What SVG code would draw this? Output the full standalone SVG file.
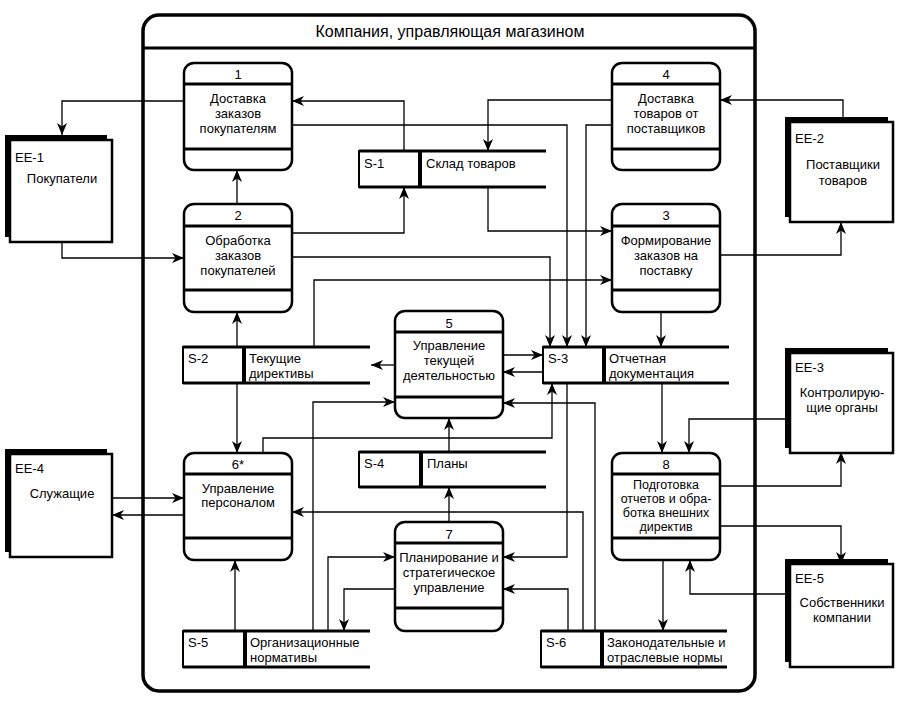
<svg xmlns="http://www.w3.org/2000/svg" width="900" height="704" viewBox="0 0 900 704">
<style>
text{font-family:"Liberation Sans",Arial,sans-serif;font-size:13px;fill:#000}
.c{text-anchor:middle}
.ttl{font-size:16px}
.sm{font-size:12.5px}
.pb{fill:#fff;stroke:#000;stroke-width:2.5}
.hl{stroke:#000;stroke-width:3}
.sh{fill:#000}
.eb{fill:#fff;stroke:#000;stroke-width:2.5}
.sid{fill:#fff;stroke:#000;stroke-width:2}
.sl{stroke:#000;stroke-width:3;fill:none}
.sep{stroke:#000;stroke-width:4}
#connectors path{fill:none;stroke:#000;stroke-width:1.3;marker-end:url(#ah)}
</style>
<defs>
<marker id="ah" viewBox="0 0 12 10" refX="12" refY="5" markerWidth="12" markerHeight="10" orient="auto" markerUnits="userSpaceOnUse"><path d="M0,0 L12,5 L0,10 L3.5,5 Z" fill="#000"/></marker>
</defs>
<rect width="900" height="704" fill="#fff"/>
<g id="company">
<rect x="143" y="15" width="612" height="676" rx="16" fill="none" stroke="#000" stroke-width="3.5"/>
<line x1="143" y1="48" x2="755" y2="48" stroke="#000" stroke-width="3"/>
<text class="c ttl" x="450" y="37">Компания, управляющая магазином</text>
</g>
<g id="connectors">
<path d="M184,101 H62 V135"/>
<path d="M404,151 V101 H292"/>
<path d="M292,125 H567 V347"/>
<path d="M612,125 H586 V347"/>
<path d="M612,100 H488 V151"/>
<path d="M843,122 V100 H720"/>
<path d="M488,187 V231 H612"/>
<path d="M292,233 H404 V187"/>
<path d="M292,257 H550 V347"/>
<path d="M314,347 V280 H612"/>
<path d="M237,204 V170"/>
<path d="M62,242 V258 H184"/>
<path d="M237,347 V312"/>
<path d="M237,383 V453"/>
<path d="M395,365 H371"/>
<path d="M720,255 H841 V222"/>
<path d="M661,312 V347"/>
<path d="M503,355 H543"/>
<path d="M543,372 H503"/>
<path d="M662,383 V453"/>
<path d="M790,419 H689 V453"/>
<path d="M595,631 V403 H503"/>
<path d="M583,631 V512 H292"/>
<path d="M567,383 V557 H503"/>
<path d="M568,631 V589 H503"/>
<path d="M663,560 V631"/>
<path d="M720,486 H841 V452"/>
<path d="M720,526 H841 V564"/>
<path d="M790,594 H690 V560"/>
<path d="M263,453 V438 H552 V383"/>
<path d="M449,452 V418"/>
<path d="M449,522 V487"/>
<path d="M313,631 V402 H395"/>
<path d="M328,631 V557 H395"/>
<path d="M395,589 H344 V631"/>
<path d="M235,631 V560"/>
<path d="M112,498 H184"/>
<path d="M184,515 H112"/>
</g>
<g id="p1">
<rect class="pb" x="184" y="63" width="108" height="107" rx="10"/>
<line class="hl" x1="184" y1="84" x2="292" y2="84"/><line class="hl" x1="184" y1="149" x2="292" y2="149"/>
<text class="c" x="238" y="79">1</text>
<text class="c" x="238" y="103">Доставка</text><text class="c" x="238" y="118">заказов</text><text class="c" x="238" y="133">покупателям</text>
</g>
<g id="p2">
<rect class="pb" x="184" y="204" width="108" height="108" rx="10"/>
<line class="hl" x1="184" y1="226" x2="292" y2="226"/><line class="hl" x1="184" y1="290" x2="292" y2="290"/>
<text class="c" x="238" y="220">2</text>
<text class="c" x="238" y="245">Обработка</text><text class="c" x="238" y="260">заказов</text><text class="c" x="238" y="275">покупателей</text>
</g>
<g id="p3">
<rect class="pb" x="612" y="204" width="108" height="108" rx="10"/>
<line class="hl" x1="612" y1="226" x2="720" y2="226"/><line class="hl" x1="612" y1="290" x2="720" y2="290"/>
<text class="c" x="666" y="220">3</text>
<text class="c" x="666" y="245">Формирование</text><text class="c" x="666" y="260">заказов на</text><text class="c" x="666" y="275">поставку</text>
</g>
<g id="p4">
<rect class="pb" x="612" y="63" width="108" height="107" rx="10"/>
<line class="hl" x1="612" y1="84" x2="720" y2="84"/><line class="hl" x1="612" y1="149" x2="720" y2="149"/>
<text class="c" x="666" y="79">4</text>
<text class="c" x="666" y="103">Доставка</text><text class="c" x="666" y="118">товаров от</text><text class="c" x="666" y="133">поставщиков</text>
</g>
<g id="p5">
<rect class="pb" x="395" y="311" width="108" height="107" rx="10"/>
<line class="hl" x1="395" y1="332" x2="503" y2="332"/><line class="hl" x1="395" y1="397" x2="503" y2="397"/>
<text class="c" x="449" y="328">5</text>
<text class="c" x="449" y="350">Управление</text><text class="c" x="449" y="365">текущей</text><text class="c" x="449" y="380">деятельностью</text>
</g>
<g id="p6">
<rect class="pb" x="184" y="453" width="108" height="107" rx="10"/>
<line class="hl" x1="184" y1="474" x2="292" y2="474"/><line class="hl" x1="184" y1="538" x2="292" y2="538"/>
<text class="c" x="238" y="469">6*</text>
<text class="c" x="238" y="493">Управление</text><text class="c" x="238" y="507">персоналом</text>
</g>
<g id="p7">
<rect class="pb" x="395" y="522" width="108" height="109" rx="10"/>
<line class="hl" x1="395" y1="543" x2="503" y2="543"/><line class="hl" x1="395" y1="608" x2="503" y2="608"/>
<text class="c" x="449" y="539">7</text>
<text class="c" x="449" y="562">Планирование и</text><text class="c" x="449" y="577">стратегическое</text><text class="c" x="449" y="592">управление</text>
</g>
<g id="p8">
<rect class="pb" x="612" y="453" width="108" height="107" rx="10"/>
<line class="hl" x1="612" y1="474" x2="720" y2="474"/><line class="hl" x1="612" y1="538" x2="720" y2="538"/>
<text class="c" x="666" y="469">8</text>
<text class="c sm" x="666" y="489">Подготовка</text><text class="c sm" x="666" y="503">отчетов и обра-</text><text class="c sm" x="666" y="517">ботка внешних</text><text class="c sm" x="666" y="531">директив</text>
</g>
<g id="s1">
<rect class="sid" x="359" y="151" width="61" height="36"/>
<path class="sl" d="M359,151 H546 M359,187 H546"/><line class="sep" x1="420" y1="151" x2="420" y2="187"/>
<text x="364" y="168">S-1</text><text x="426" y="168">Склад товаров</text>
</g>
<g id="s2">
<rect class="sid" x="183" y="347" width="61" height="36"/>
<path class="sl" d="M183,347 H370 M183,383 H370"/><line class="sep" x1="244" y1="347" x2="244" y2="383"/>
<text x="188" y="363">S-2</text><text x="249" y="363">Текущие</text><text x="249" y="378">директивы</text>
</g>
<g id="s3">
<rect class="sid" x="543" y="347" width="61" height="36"/>
<path class="sl" d="M543,347 H729 M543,383 H729"/><line class="sep" x1="604" y1="347" x2="604" y2="383"/>
<text x="548" y="363">S-3</text><text x="609" y="363">Отчетная</text><text x="609" y="378">документация</text>
</g>
<g id="s4">
<rect class="sid" x="359" y="452" width="62" height="35"/>
<path class="sl" d="M359,452 H546 M359,487 H546"/><line class="sep" x1="421" y1="452" x2="421" y2="487"/>
<text x="364" y="468">S-4</text><text x="427" y="468">Планы</text>
</g>
<g id="s5">
<rect class="sid" x="183" y="631" width="62" height="36"/>
<path class="sl" d="M183,631 H370 M183,667 H370"/><line class="sep" x1="245" y1="631" x2="245" y2="667"/>
<text x="188" y="647">S-5</text><text x="250" y="647">Организационные</text><text x="250" y="662">нормативы</text>
</g>
<g id="s6">
<rect class="sid" x="541" y="631" width="61" height="36"/>
<path class="sl" d="M541,631 H727 M541,667 H727"/><line class="sep" x1="602" y1="631" x2="602" y2="667"/>
<text x="546" y="647">S-6</text><text x="607" y="647">Законодательные и</text><text x="607" y="662">отраслевые нормы</text>
</g>
<g id="ee1">
<rect class="sh" x="5" y="135" width="102" height="102"/><rect class="eb" x="10" y="140" width="102" height="102"/>
<text x="15" y="162">EE-1</text><text class="c" x="62" y="183">Покупатели</text>
</g>
<g id="ee2">
<rect class="sh" x="785" y="117" width="103" height="100"/><rect class="eb" x="790" y="122" width="103" height="100"/>
<text x="795" y="143">EE-2</text><text class="c" x="843" y="169">Поставщики</text><text class="c" x="843" y="185">товаров</text>
</g>
<g id="ee3">
<rect class="sh" x="785" y="348" width="103" height="100"/><rect class="eb" x="790" y="353" width="103" height="100"/>
<text x="795" y="372">EE-3</text><text class="c" x="842" y="397">Контролирую-</text><text class="c" x="842" y="412">щие органы</text>
</g>
<g id="ee4">
<rect class="sh" x="5" y="449" width="102" height="103"/><rect class="eb" x="10" y="454" width="102" height="103"/>
<text x="15" y="473">EE-4</text><text class="c" x="62" y="498">Служащие</text>
</g>
<g id="ee5">
<rect class="sh" x="785" y="559" width="103" height="103"/><rect class="eb" x="790" y="564" width="103" height="103"/>
<text x="795" y="583">EE-5</text><text class="c" x="842" y="607">Собственники</text><text class="c" x="842" y="622">компании</text>
</g>
</svg>
